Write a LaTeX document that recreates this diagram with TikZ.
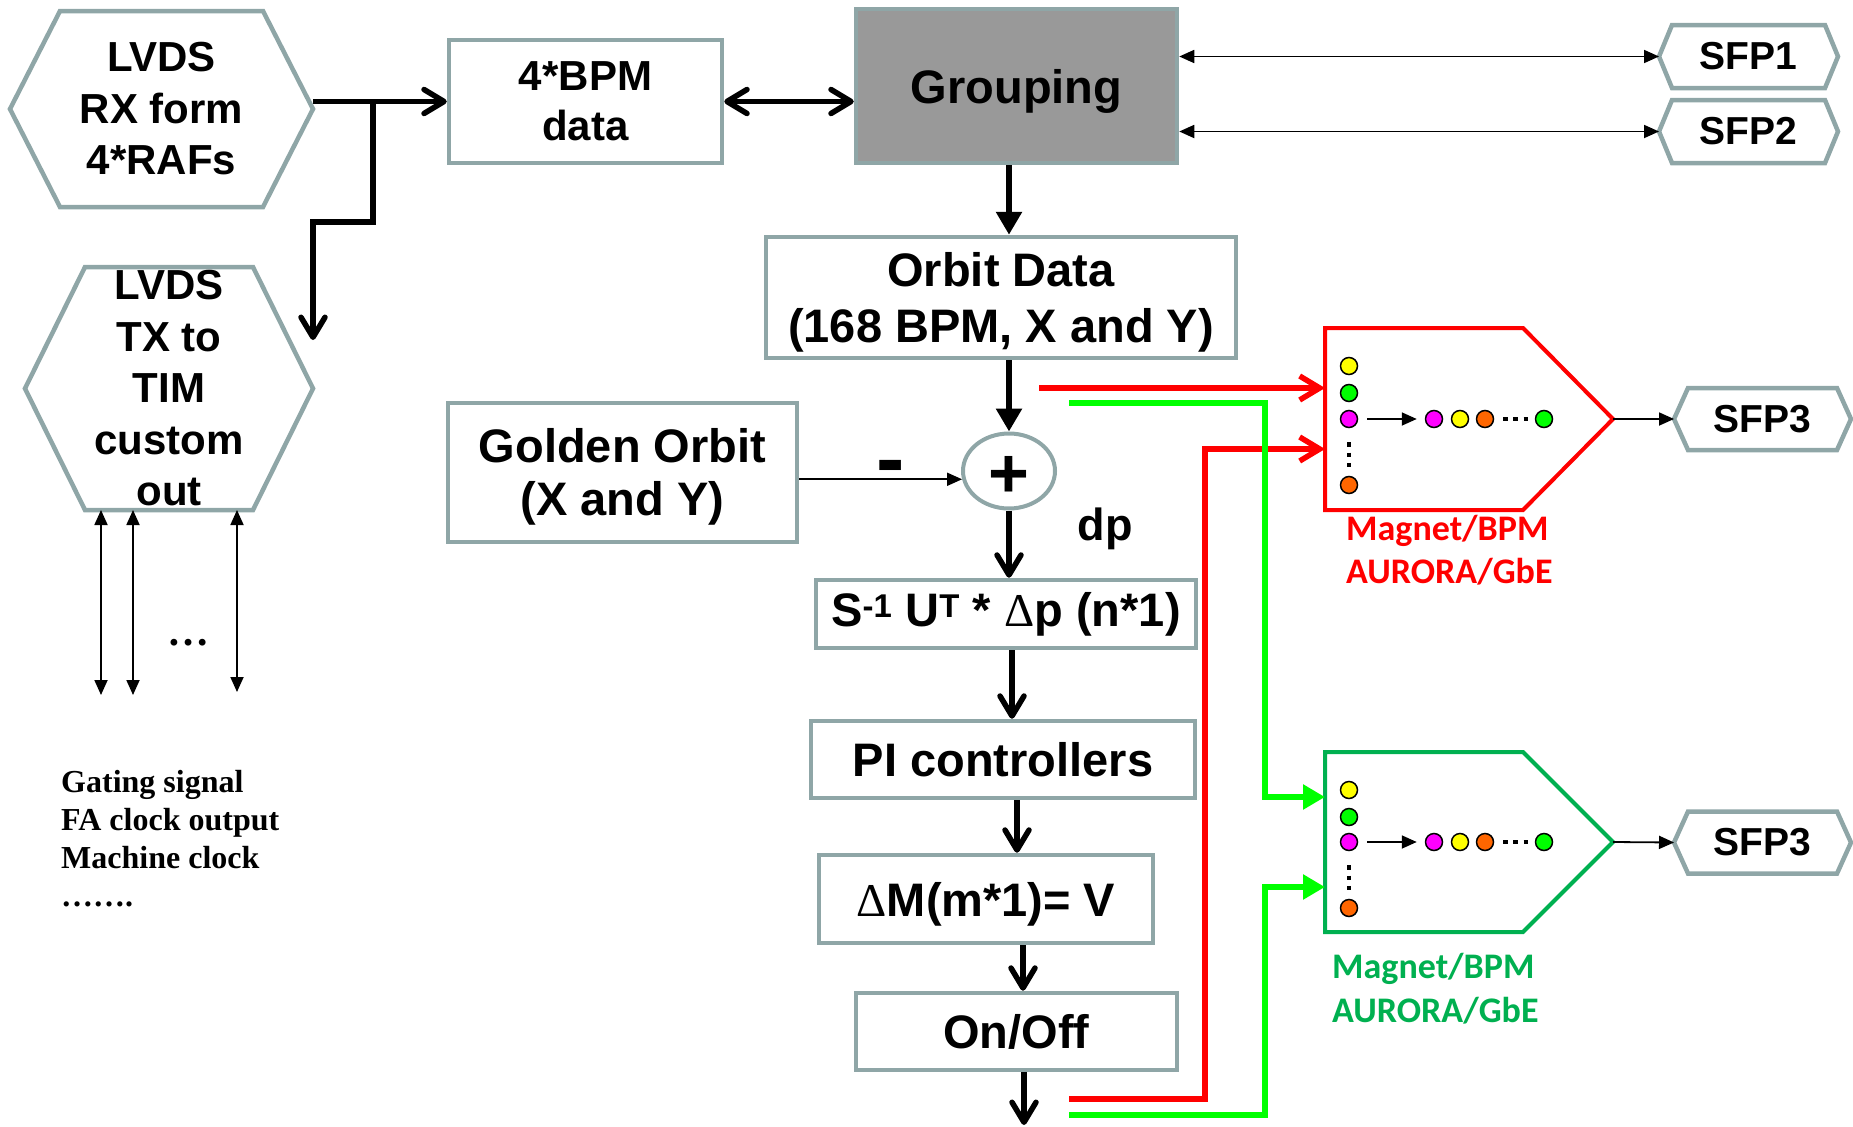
\documentclass[tikz,border=0pt]{standalone}
\usepackage{fontspec}
\setmainfont{Liberation Sans}
\newfontfamily\calfont{Carlito}
\newfontfamily\timesfont{Liberation Serif}
\usetikzlibrary{arrows.meta,shapes.geometric,backgrounds}
\definecolor{bgray}{RGB}{143,166,167}
\definecolor{grpfill}{RGB}{153,153,153}
\definecolor{lred}{RGB}{255,0,0}
\definecolor{lgreen}{RGB}{0,255,0}
\definecolor{dgreen}{RGB}{0,176,80}
\definecolor{dyellow}{RGB}{255,255,0}
\definecolor{dmag}{RGB}{255,0,255}
\definecolor{dorange}{RGB}{255,102,0}
\newcommand{\myfs}[2]{\fontsize{#1}{#2}\selectfont}
\newcommand{\myhex}[2]{%
  \begin{pgfonlayer}{background}
  \draw[hexline] (#1.west) -- ([xshift=#2]#1.north west) -- ([xshift=-#2]#1.north east) -- (#1.east) -- ([xshift=-#2]#1.south east) -- ([xshift=#2]#1.south west) -- cycle;
  \end{pgfonlayer}}
\newcommand{\mypent}[3]{%
  \begin{pgfonlayer}{background}
  \draw[line width=4pt, draw=#3, line join=miter] (#1.north west) -- ([xshift=-#2]#1.north east) -- (#1.east) -- ([xshift=-#2]#1.south east) -- (#1.south west) -- cycle;
  \end{pgfonlayer}}
\newcommand{\dlta}{{\timesfont\mdseries Δ}}
\begin{document}
\begin{tikzpicture}[x=1pt,y=-1pt,
  hexline/.style={draw=bgray, line width=4.5pt, line join=miter},
  hexnode/.style={rectangle, inner sep=0pt, outer sep=0pt, align=center, font=\bfseries\myfs{42}{51.5}},
  gbox/.style={rectangle, draw=bgray, line width=4.5pt, inner sep=0pt, align=center, font=\bfseries\myfs{47}{55}},
  chev/.style={line width=5.5pt, line join=miter, -{Straight Barb[length=20pt,width=24pt,round]}},
  dchev/.style={line width=5.5pt, {Straight Barb[length=20pt,width=24pt,round]}-{Straight Barb[length=20pt,width=24pt,round]}},
  tarr/.style={line width=6pt, -{Triangle[length=23pt,width=25pt]}},
  thinarr/.style={line width=1.8pt, -{Triangle[length=15pt,width=13pt]}},
  dthin/.style={line width=1.8pt, {Triangle[length=15pt,width=13pt]}-{Triangle[length=15pt,width=13pt]}},
  redln/.style={draw=lred, line width=5.5pt, line join=miter, -{Straight Barb[length=20pt,width=24pt]}},
  grnln/.style={draw=lgreen, line width=6pt, line join=miter, -{Triangle[length=22pt,width=24pt]}},
  dotn/.style={circle, draw=black, line width=1.5pt, minimum size=17pt, inner sep=0pt},
  dotline/.style={line width=4.5pt, dash pattern=on 4.5pt off 5.75pt},
  pentnode/.style={rectangle, inner sep=0pt, outer sep=0pt, minimum width=288pt}
]
\useasboundingbox (0,0) rectangle (1853,1127);

% hexagons
\node[hexnode, minimum width=303pt, minimum height=196pt] (rx) at (161.5,109) {LVDS\\RX form\\4*RAFs};
\myhex{rx}{50}
\node[hexnode, minimum width=288pt, minimum height=243pt] (tx) at (169,388.5) {LVDS\\TX to\\TIM\\custom\\out};
\myhex{tx}{60}
\node[hexnode, font=\bfseries\myfs{39}{45}, minimum width=179pt, minimum height=63pt] (sfp1) at (1748.5,56.5) {SFP1};
\myhex{sfp1}{13}
\node[hexnode, font=\bfseries\myfs{39}{45}, minimum width=179pt, minimum height=63pt] (sfp2) at (1748.5,131.5) {SFP2};
\myhex{sfp2}{13}
\node[hexnode, font=\bfseries\myfs{39}{45}, minimum width=177pt, minimum height=62pt] (sfp3a) at (1762.5,419) {SFP3};
\myhex{sfp3a}{14}
\node[hexnode, font=\bfseries\myfs{39}{45}, minimum width=177pt, minimum height=62pt] (sfp3b) at (1762.5,842.5) {SFP3};
\myhex{sfp3b}{14}

% boxes
\node[gbox, font=\bfseries\myfs{42}{50}, minimum width=273pt, minimum height=123pt] (bpm) at (585.5,101.5) {4*BPM\\data};
\node[gbox, fill=grpfill, minimum width=321pt, minimum height=154pt, text height=40pt, text depth=5pt] (grp) at (1016.5,86) {Grouping};
\node[gbox, font=\bfseries\myfs{47}{56}, minimum width=470pt, minimum height=121pt, text depth=0pt] (orbit) at (1001,297.5) {Orbit Data\\(168 BPM, X and Y)};
\node[gbox, font=\bfseries\myfs{47}{53}, minimum width=349pt, minimum height=139pt, text depth=2pt] (golden) at (622.5,472.5) {Golden Orbit\\(X and Y)};
\node[ellipse, draw=bgray, line width=4pt, minimum width=92pt, minimum height=75pt, inner sep=0pt, text height=52pt, text depth=0pt, font=\bfseries\myfs{70}{70}] (sum) at (1009,471) {+};
\node[gbox, minimum width=380pt, minimum height=68pt] (smat) at (1006,614) {S\textsuperscript{-1} U\textsuperscript{T} * \dlta p (n*1)};
\node[gbox, minimum width=384pt, minimum height=77pt] (pi) at (1003,759.5) {PI controllers};
\node[gbox, minimum width=334pt, minimum height=88pt, text depth=0pt] (dm) at (986,899) {\dlta M(m*1)= V};
\node[gbox, minimum width=321pt, minimum height=77pt] (onoff) at (1016.5,1031.5) {On/Off};

% pentagons
\node[pentnode, minimum height=182pt] (redpent) at (1469,419) {};
\mypent{redpent}{90}{lred}
\node[pentnode, minimum height=180pt] (grnpent) at (1469,842) {};
\mypent{grnpent}{90}{dgreen}

% dots red
\node[dotn, fill=dyellow] (rc1) at (1349,366) {};
\node[dotn, fill=lgreen] (rc2) at (1349,393) {};
\node[dotn, fill=dmag] (rc3) at (1349,419) {};
\node[dotn, fill=dorange] (rc4) at (1349,485) {};
\node[dotn, fill=dmag] (rr1) at (1434,419) {};
\node[dotn, fill=dyellow] (rr2) at (1460,419) {};
\node[dotn, fill=dorange] (rr3) at (1485,419) {};
\node[dotn, fill=lgreen] (rr4) at (1544,419) {};
\draw[dotline, shorten <=14pt, shorten >=8pt] (rc3.south) -- (rc4.north);
\draw[dotline, shorten <=8.75pt, shorten >=6.75pt] (rr3.east) -- (rr4.west);
\draw[thinarr, shorten <=9pt, shorten >=8pt] (rc3.east) -- (rr1.west);
% dots green
\node[dotn, fill=dyellow] (gc1) at (1349,790) {};
\node[dotn, fill=lgreen] (gc2) at (1349,817) {};
\node[dotn, fill=dmag] (gc3) at (1349,842) {};
\node[dotn, fill=dorange] (gc4) at (1349,908) {};
\node[dotn, fill=dmag] (gr1) at (1434,842) {};
\node[dotn, fill=dyellow] (gr2) at (1460,842) {};
\node[dotn, fill=dorange] (gr3) at (1485,842) {};
\node[dotn, fill=lgreen] (gr4) at (1544,842) {};
\draw[dotline, shorten <=14pt, shorten >=8pt] (gc3.south) -- (gc4.north);
\draw[dotline, shorten <=8.75pt, shorten >=6.75pt] (gr3.east) -- (gr4.west);
\draw[thinarr, shorten <=9pt, shorten >=8pt] (gc3.east) -- (gr1.west);

% labels
\node[font=\calfont\bfseries\myfs{36}{43}, text=lred, anchor=north west, inner sep=0pt, align=left] (rlab) at (1346,515) {Magnet/BPM\\AURORA/GbE};
\node[font=\calfont\bfseries\myfs{36}{44}, text=dgreen, anchor=north west, inner sep=0pt, align=left] (glab) at (1332,953) {Magnet/BPM\\AURORA/GbE};
\node[font=\bfseries\myfs{85}{85}, anchor=base, inner sep=0pt] (minus) at (891,487) {-};
\node[font=\bfseries\myfs{45}{50}, anchor=base, inner sep=0pt] (dp) at (1105,540) {dp};
\node[font=\timesfont\bfseries\myfs{42}{42}, anchor=base, inner sep=0pt] (ell) at (188,645) {…};
\node[font=\timesfont\bfseries\myfs{32}{38}, anchor=north west, inner sep=0pt, align=left] (sig) at (61,770) {Gating signal\\FA clock output\\Machine clock\\…….};

% black connectors
\coordinate (k1) at (373,101.5);
\coordinate (k2) at (373,222);
\coordinate (k3) at (313,222);
\coordinate (txin) at (313,340);
\draw[chev] (rx.east |- bpm.west) -- (bpm.west);
\draw[chev] (k1) -- (k2) -- (k3) -- (txin);
\draw[dchev] (bpm.east) -- (bpm.east -| grp.west);
\draw[tarr] (grp.south -| sum) -- (orbit.north -| sum);
\draw[tarr] (orbit.south -| sum) -- (sum.north);
\draw[thinarr] (golden.east |- sum.190) -- (sum.190);
\draw[chev] (sum.south) -- (sum.south |- smat.north);
\draw[chev] ([xshift=6pt]smat.south) -- ([xshift=6pt]smat.south |- pi.north);
\draw[chev] ([xshift=14pt]pi.south) -- ([xshift=14pt]pi.south |- dm.north);
\draw[chev] ([xshift=37pt]dm.south) -- ([xshift=37pt]dm.south |- onoff.north);
\coordinate (outend) at (1024,1125);
\draw[chev] (onoff.south -| outend) -- (outend);
\draw[dthin] (grp.east |- sfp1.west) -- (sfp1.west);
\draw[dthin] (grp.east |- sfp2.west) -- (sfp2.west);
\draw[thinarr] (redpent.east) -- (sfp3a.west);
\draw[thinarr] (grnpent.east) -- (sfp3b.west);
\coordinate (la1) at (101,695);
\coordinate (la2) at (133,695);
\coordinate (la3) at (237,692);
\draw[dthin] ([xshift=-68pt]tx.south) -- (la1);
\draw[dthin] ([xshift=-36pt]tx.south) -- (la2);
\draw[dthin] ([xshift=68pt]tx.south) -- (la3);

% red and green feeds
\coordinate (r1s) at (1039,388);
\coordinate (r2s) at (1069,1099);
\coordinate (r2a) at (1205,449);
\draw[redln] (r1s) -- (r1s -| redpent.west);
\draw[redln] (r2s) -| (r2a) -- (r2a -| redpent.west);
\coordinate (g1s) at (1069,403);
\coordinate (g1a) at (1265,797);
\coordinate (g2s) at (1069,1115);
\coordinate (g2a) at (1265,887);
\draw[grnln] (g1s) -| (g1a) -- (g1a -| grnpent.west);
\draw[grnln] (g2s) -| (g2a) -- (g2a -| grnpent.west);
\end{tikzpicture}
\end{document}
